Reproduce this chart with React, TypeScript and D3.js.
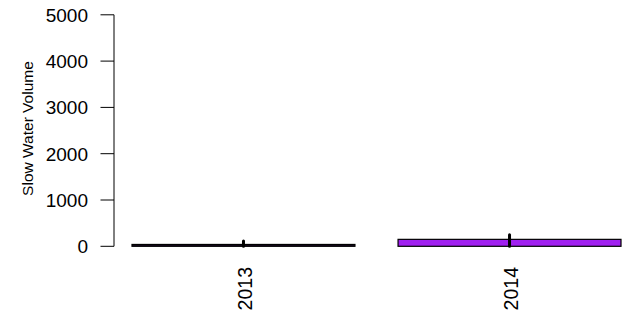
import React from "react";
import * as d3 from "d3";

const years = ["2013", "2014"];
const means = [40, 150];
const errUpper = [115, 250];
const fills = ["#1a0a24", "#A020F0"];
const yTicks = [0, 1000, 2000, 3000, 4000, 5000];

export default function App() {
  const W = 625, H = 324;
  const y = d3.scaleLinear().domain([0, 5000]).range([246.3, 14.8]);
  const x = d3.scaleBand<string>().domain(years).range([132, 621]).paddingInner(0.162).paddingOuter(0);
  const font = "Liberation Sans, Arial, Helvetica, sans-serif";
  return (
    <svg width={W} height={H} style={{ position: "absolute", left: 0, top: 0 }} fontFamily={font}>
      <rect width={W} height={H} fill="white" />
      <line x1={114} x2={114} y1={y(0)} y2={y(5000)} stroke="black" strokeWidth={1} />
      {yTicks.map((t) => (
        <g key={t}>
          <line x1={100.5} x2={114} y1={y(t)} y2={y(t)} stroke="black" strokeWidth={1} />
          <text x={88} y={y(t)} dy="0.36em" textAnchor="end" fontSize={19}>{t}</text>
        </g>
      ))}
      <text transform={`translate(33,${y(2500) - 2}) rotate(-90)`} textAnchor="middle" fontSize={15.5}>Slow Water Volume</text>
      {years.map((yr, i) => {
        const bx = x(yr)!;
        const bw = x.bandwidth();
        const cx = bx + bw / 2;
        return (
          <g key={yr}>
            <rect x={bx} y={y(means[i])} width={bw} height={y(0) - y(means[i])} fill={fills[i]} stroke="black" strokeWidth={1.2} />
            <line x1={cx} x2={cx} y1={y(0)} y2={y(errUpper[i])} stroke="black" strokeWidth={3} strokeLinecap="round" />
            <text transform={`translate(${cx + 1.5},267) rotate(-90)`} dy="0.36em" textAnchor="end" fontSize={19.5}>{yr}</text>
          </g>
        );
      })}
    </svg>
  );
}
